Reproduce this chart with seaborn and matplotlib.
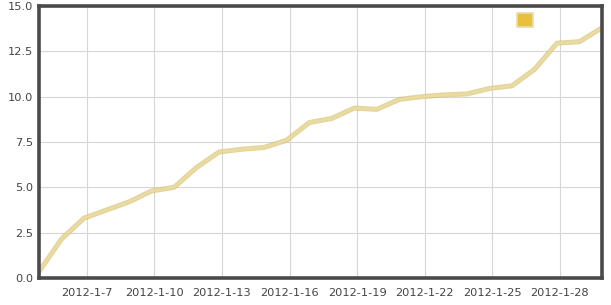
import matplotlib
matplotlib.use("Agg")
import matplotlib.pyplot as plt
import matplotlib.patheffects as pe
import seaborn as sns
import pandas as pd
from matplotlib.patches import Rectangle

dates = pd.date_range("2012-01-05", "2012-01-30", freq="D")
values = [0.35, 2.15, 3.3, 3.75, 4.2, 4.8, 5.0, 6.1, 6.95, 7.1, 7.2, 7.6,
          8.57, 8.8, 9.37, 9.3, 9.85, 10.0, 10.1, 10.15, 10.45, 10.6,
          11.5, 12.95, 13.03, 13.8]
tick_dates = pd.to_datetime(["2012-01-07 03:00", "2012-01-10 03:00", "2012-01-13 03:00",
                             "2012-01-16 03:00", "2012-01-19 03:00", "2012-01-22 03:00",
                             "2012-01-25 03:00", "2012-01-28 03:00"])
tick_labels = ["2012-1-7", "2012-1-10", "2012-1-13", "2012-1-16",
               "2012-1-19", "2012-1-22", "2012-1-25", "2012-1-28"]
y_ticks = [0.0, 2.5, 5.0, 7.5, 10.0, 12.5, 15.0]

df = pd.DataFrame({"date": dates, "value": values})

sns.set_theme(style="white")
plt.rcParams["font.family"] = ["DejaVu Sans"]

fig = plt.figure(figsize=(6.11, 3.05), dpi=100)
ax = fig.add_axes([39/611, 1 - 278/305, (602 - 39)/611, (278 - 6)/305])

sns.lineplot(data=df, x="date", y="value", ax=ax, color="#eadba0", linewidth=1.8,
             path_effects=[pe.Stroke(linewidth=3.6, foreground="#d6c272", alpha=0.7),
                           pe.Normal()])

ax.set_xlim(dates[0], dates[-1])
ax.set_ylim(0, 15)
ax.set_xticks(tick_dates)
ax.set_xticklabels(tick_labels)
ax.set_yticks(y_ticks)
ax.set_yticklabels([f"{v:.1f}" for v in y_ticks])
ax.set_xlabel("")
ax.set_ylabel("")
ax.grid(True, color="#d6d6d6", linewidth=0.8)
ax.set_axisbelow(True)
for s in ax.spines.values():
    s.set_color("#4a4a4a")
    s.set_linewidth(2.6)
ax.tick_params(axis="both", length=0, labelsize=8.2, labelcolor="#444444")
ax.tick_params(axis="x", pad=7)
ax.tick_params(axis="y", pad=4)

# legend swatch (no label text)
lx, ly = 517/611, 1 - 27/305
fig.patches.append(Rectangle((lx, ly), 16/611, 14/305, transform=fig.transFigure,
                             facecolor="#e8c03c", edgecolor="#e6dcb0", linewidth=1.2))

fig.savefig("out.png", dpi=100)
